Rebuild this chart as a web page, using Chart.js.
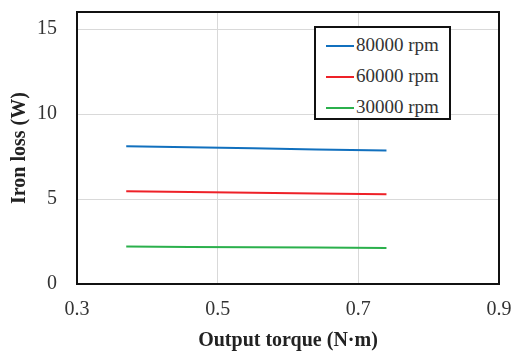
<!DOCTYPE html>
<html>
<head>
<meta charset="utf-8">
<script src="https://cdn.jsdelivr.net/npm/chart.js@4"></script>
<style>
  body { margin: 0; background: #fff; }
  #wrap { position: relative; width: 514px; height: 353px; }
  #legend {
    position: absolute; left: 314px; top: 26px; width: 133px; height: 90px;
    border: 2px solid #111; background: #fff; box-sizing: content-box;
    font-family: 'Liberation Serif', 'Times New Roman', serif; font-size: 19px; color: #333;
  }
  #legend div { position: absolute; left: 10px; height: 24px; line-height: 24px; white-space: nowrap; }
  #legend span { display: inline-block; width: 28px; height: 2px; vertical-align: middle; margin-right: 2px; position: relative; top: -1px; }
</style>
</head>
<body>
<div id="wrap">
  <canvas id="lossChart"></canvas>
  <div id="legend"></div>
</div>
<script>
// Iron loss against output torque for three speeds
const torque = [0.37, 0.46, 0.55, 0.64, 0.74];
const loss80k = [8.10, 8.04, 7.98, 7.91, 7.86];
const loss60k = [5.45, 5.41, 5.37, 5.32, 5.28];
const loss30k = [2.20, 2.18, 2.16, 2.14, 2.12];
const seriesNames = ['80000 rpm', '60000 rpm', '30000 rpm'];
const seriesColors = ['#1170be', '#ee2128', '#2bb04c'];
const xTicks = [0.3, 0.5, 0.7, 0.9];
const yTicks = [0, 5, 10, 15];

const serif = "'Liberation Serif', 'Times New Roman', serif";

function points(ys) {
    return ys.map((y, i) => ({ x: torque[i], y: y }));
}

// black frame round the plot area
const frame = {
    id: 'frame',
    afterDraw(chart) {
        const a = chart.chartArea;
        const c = chart.ctx;
        c.save();
        c.strokeStyle = '#111';
        c.lineWidth = 2;
        c.strokeRect(a.left, a.top, a.right - a.left, a.bottom - a.top);
        c.restore();
    }
};

const chart = new Chart(document.getElementById('lossChart'), {
    type: 'line',
    data: {
        datasets: [loss80k, loss60k, loss30k].map((ys, i) => ({
            label: seriesNames[i],
            data: points(ys),
            borderColor: seriesColors[i],
            backgroundColor: seriesColors[i],
            borderWidth: 2,
            pointRadius: 0,
            tension: 0
        }))
    },
    options: {
        responsive: true,
        maintainAspectRatio: false,
        animation: false,
        layout: { padding: { top: 12, right: 15, left: 0, bottom: 0 } },
        plugins: {
            legend: { display: false },
            tooltip: { enabled: false }
        },
        scales: {
            x: {
                type: 'linear',
                min: 0.3,
                max: 0.9,
                afterBuildTicks: s => { s.ticks = xTicks.map(v => ({ value: v })); },
                afterFit: s => { s.height = 69; s.paddingLeft = 0; s.paddingRight = 0; },
                ticks: {
                    padding: 14,
                    color: '#333',
                    font: { family: serif, size: 20 },
                    callback: v => v.toFixed(1)
                },
                grid: { color: '#d9d9d9', drawTicks: false },
                border: { display: false },
                title: {
                    display: true,
                    text: 'Output torque (N·m)',
                    color: '#222',
                    font: { family: serif, size: 20, weight: 'bold' },
                    padding: { top: 2, bottom: 0 }
                }
            },
            y: {
                min: 0,
                max: 16,
                afterBuildTicks: s => { s.ticks = yTicks.map(v => ({ value: v })); },
                afterFit: s => { s.width = 77; s.paddingTop = 0; s.paddingBottom = 0; },
                ticks: {
                    padding: 20,
                    color: '#333',
                    font: { family: serif, size: 20 }
                },
                grid: { color: '#d9d9d9', drawTicks: false },
                border: { display: false },
                title: {
                    display: true,
                    text: 'Iron loss (W)',
                    color: '#222',
                    font: { family: serif, size: 20, weight: 'bold' },
                    padding: { top: 8, bottom: 0 }
                }
            }
        }
    },
    plugins: [frame]
});

// legend box built from the datasets
const legend = document.getElementById('legend');
chart.data.datasets.forEach((ds, i) => {
    const row = document.createElement('div');
    row.style.top = (5 + i * 31) + 'px';
    row.innerHTML = '<span style="background:' + ds.borderColor + '"></span>' + ds.label;
    legend.appendChild(row);
});
</script>
</body>
</html>
